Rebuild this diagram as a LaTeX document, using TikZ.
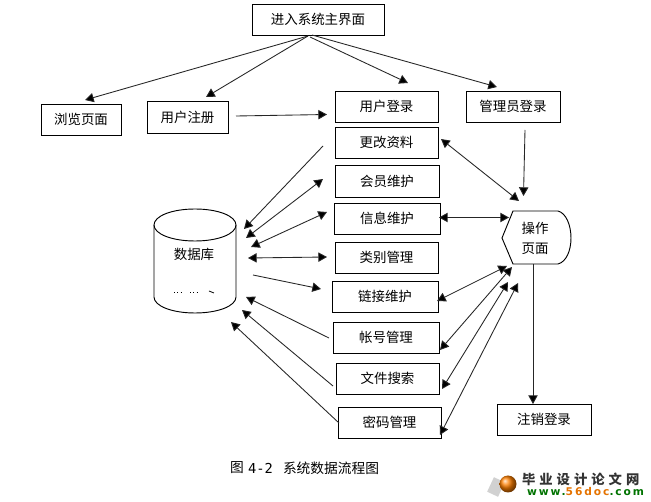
\documentclass[tikz,border=0pt]{standalone}
\usepackage{fontspec}
\setmainfont{Noto Sans CJK SC}
\newfontfamily\capmono{DejaVu Sans Mono}
\newfontfamily\wmcjk[LetterSpace=30]{Noto Sans CJK SC}
\newfontfamily\wmlatin[LetterSpace=18]{DejaVu Sans}
\usetikzlibrary{arrows.meta,shapes.geometric}
\tikzset{
  x=0.75pt,y=-0.75pt,
  every node/.style={inner sep=0pt,outer sep=0pt},
  boxnode/.style={draw=black,line width=0.7pt,font=\fontsize{10.1pt}{12pt}\selectfont},
  link/.style={draw=black!85,line width=0.65pt,-{Triangle[length=6.5pt,width=7pt,fill=black]}},
  both/.style={draw=black!85,line width=0.65pt,{Triangle[length=6.5pt,width=7pt,fill=black]}-{Triangle[length=6.5pt,width=7pt,fill=black]}},
  shapeline/.style={draw=black,line width=0.7pt,fill=white}
}
\newcommand{\pbox}[6]{\node[boxnode,minimum width=#4*0.75pt-#2*0.75pt,minimum height=#5*0.75pt-#3*0.75pt] (#1) at ({(#2+#4)/2},{(#3+#5)/2}) {#6};}
\begin{document}
\begin{tikzpicture}
\useasboundingbox (0,0) rectangle (651,502);
\fill[white] (0,0) rectangle (651,502);
\pbox{top}{252}{4}{384}{35}{进入系统主界面}
\pbox{browse}{41}{104}{121}{135}{浏览页面}
\pbox{reg}{147}{101}{228}{133}{用户注册}
\pbox{ulogin}{335}{91}{438}{122}{用户登录}
\pbox{alogin}{466}{91}{560}{122}{管理员登录}
\pbox{edit}{335}{127}{438}{158}{更改资料}
\pbox{member}{335}{165}{439}{197}{会员维护}
\pbox{info}{334}{203}{440}{234}{信息维护}
\pbox{cat}{335}{242}{438}{273}{类别管理}
\pbox{lnk}{332}{281}{438}{312}{链接维护}
\pbox{acct}{333}{322}{439}{353}{帐号管理}
\pbox{file}{336}{363}{439}{394}{文件搜索}
\pbox{pwd}{338}{407}{441}{438}{密码管理}
\pbox{logout}{497}{404}{591}{435}{注销登录}
% database cylinder
\draw[shapeline] (154,225) -- (154,297) .. controls (154,306) and (172,313) .. (195,313) .. controls (218,313) and (236,306) .. (236,297) -- (236,225) .. controls (236,216) and (218,209) .. (195,209) .. controls (172,209) and (154,216) .. (154,225) -- cycle;
\draw[shapeline,fill=none] (154,225) .. controls (154,234) and (172,241) .. (195,241) .. controls (218,241) and (236,234) .. (236,225);
\node[font=\fontsize{10.1pt}{12pt}\selectfont] (db) at (194,254) {数据库};
\draw[black,line width=0.5pt,dotted] (174,292) -- (183,292) (190,292) -- (198,292);
\draw[black,line width=0.6pt] (209,291) -- (214,293);
% operation page
\draw[shapeline] (502,238) -- (513,211) -- (558,211) .. controls (566,213) and (571,225) .. (571,238) .. controls (571,251) and (566,262) .. (558,264) -- (513,264) -- cycle;
\node[align=center,font=\fontsize{10.1pt}{15pt}\selectfont] (op) at (535,238) {操作\\页面};
% free ends
\foreach \n/\x/\y in {
  t1/308/36,b1/85/100,t2/308/36,b2/206/97,t3/310/37,b3/408/83,t4/312/35,b4/497/87,
  r1/236/116,r2/327/114.5,a1/525/130,a2/523.5/196,
  e1/441/139,e2/519/201,i1/439/217.5,i2/509/217.5,
  k1/437/301,k2/507/266,c1/440/350,c2/512/267,f1/442/389,f2/508/282,p1/440/435,p2/518/283,
  o1/533/264,o2/533/404,
  le1/323/146,le2/244/229,lm1/323/179,lm2/246/238,li1/327/212,li2/251/247,
  lc1/327/257,lc2/248/258,ll1/253/275,ll2/321/289,la1/329/338,la2/246/297,
  lf1/333/386,lf2/242/310,lp1/339/423,lp2/231/322}
  {\coordinate (\n) at (\x,\y);}
\draw[link] (t1) -- (b1);
\draw[link] (t2) -- (b2);
\draw[link] (t3) -- (b3);
\draw[link] (t4) -- (b4);
\draw[link] (r1) -- (r2);
\draw[link] (a1) -- (a2);
\draw[both] (e1) -- (e2);
\draw[both] (i1) -- (i2);
\draw[both] (k1) -- (k2);
\draw[both] (c1) -- (c2);
\draw[both] (f1) -- (f2);
\draw[both] (p1) -- (p2);
\draw[link] (o1) -- (o2);
\draw[link] (le1) -- (le2);
\draw[both] (lm1) -- (lm2);
\draw[both] (li1) -- (li2);
\draw[both] (lc1) -- (lc2);
\draw[link] (ll1) -- (ll2);
\draw[link] (la1) -- (la2);
\draw[link] (lf1) -- (lf2);
\draw[link] (lp1) -- (lp2);
% caption
\node[anchor=west,font=\fontsize{10.3pt}{12pt}\selectfont] (cap) at (230,468) {图};
\node[anchor=west,font=\fontsize{10.3pt}{12pt}\capmono] (capn) at (248,468) {4-2};
\node[anchor=west,font=\fontsize{10.3pt}{12pt}\selectfont] (capt) at (283,468) {系统数据流程图};
% watermark
\fill[black!18,rotate around={-25:(496,487)}] (490,479) rectangle (502,495);
\shade[ball color=orange] (508,484) circle (8.5);
\node[anchor=west,font=\fontsize{10pt}{12pt}\wmcjk\bfseries,text=black!80] (wm) at (522,479.5) {毕业设计论文网};
\node[anchor=west,font=\fontsize{8pt}{9pt}\wmlatin\bfseries,text=black!55!green] (wm2) at (527,492) {www.{\color{orange!90!black}56doc}.com};
\end{tikzpicture}
\end{document}
